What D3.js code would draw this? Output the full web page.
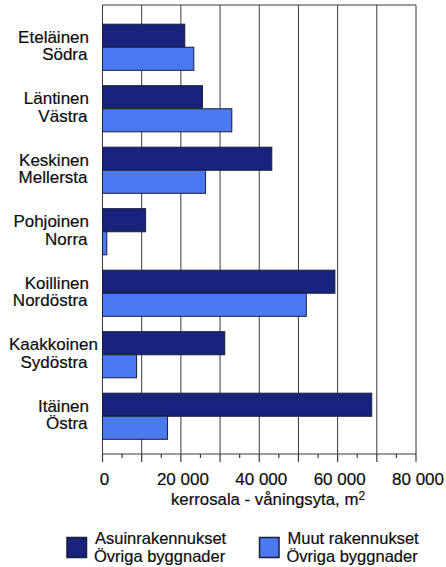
<!DOCTYPE html>
<html>
<head>
<meta charset="utf-8">
<script src="https://cdn.jsdelivr.net/npm/d3@7"></script>
<style>
  body { margin: 0; background: #fff; }
  svg text { font-family: "Liberation Sans", Arial, sans-serif; fill: #0d0d0d; stroke: #0d0d0d; stroke-width: 0.2px; }
</style>
</head>
<body>
<div id="chart"></div>
<script>
// regions (Finnish / Swedish)
const regionsFi = ['Eteläinen', 'Läntinen', 'Keskinen', 'Pohjoinen', 'Koillinen', 'Kaakkoinen', 'Itäinen'];
const regionsSv = ['Södra', 'Västra', 'Mellersta', 'Norra', 'Nordöstra', 'Sydöstra', 'Östra'];

// floor area, m2
const residential = [21000, 25500, 43200, 11000, 59300, 31200, 68700];
const otherBuildings = [23300, 33000, 26300, 1100, 52000, 8700, 16600];

const xTicks = [0, 20000, 40000, 60000, 80000];
const legendLabels = [
    ['Asuinrakennukset', 'Övriga byggnader'],
    ['Muut rakennukset', 'Övriga byggnader']
];

const width = 446, height = 567;
const colors = { dark: '#17237c', light: '#4b79ef', stroke: '#1b1d3c', grid: '#3a3a3a' };

const plot = { left: 102.5, right: 416, top: 5, bottom: 454 };
const labelMinX = 9; // labels never start left of this

const svg = d3.select('#chart').append('svg')
    .attr('width', width)
    .attr('height', height);

const x = d3.scaleLinear()
    .domain([0, 80000])
    .range([plot.left, plot.right]);

const y = d3.scaleBand()
    .domain(regionsFi)
    .range([16.5, 447])
    .paddingInner(0.25)
    .paddingOuter(0.125);

const sub = d3.scaleBand()
    .domain(['res', 'other'])
    .range([0, y.bandwidth()]);

// vertical grid lines every 10 000
svg.append('g')
    .selectAll('line')
    .data(d3.range(0, 80001, 10000))
    .enter()
    .append('line')
    .attr('x1', d => x(d)).attr('x2', d => x(d))
    .attr('y1', plot.top).attr('y2', plot.bottom)
    .attr('stroke', colors.grid)
    .attr('stroke-width', 1);

// top frame line
svg.append('line')
    .attr('x1', plot.left).attr('x2', plot.right)
    .attr('y1', plot.top).attr('y2', plot.top)
    .attr('stroke', colors.grid);

// bars
const groups = svg.append('g')
    .selectAll('g')
    .data(regionsFi)
    .enter()
    .append('g')
    .attr('transform', d => `translate(0,${y(d)})`);

groups.append('rect')
    .attr('x', x(0))
    .attr('y', sub('res'))
    .attr('width', (d, i) => x(residential[i]) - x(0))
    .attr('height', sub.bandwidth())
    .attr('fill', colors.dark)
    .attr('stroke', colors.stroke)
    .attr('stroke-width', 1);

groups.append('rect')
    .attr('x', x(0))
    .attr('y', sub('other'))
    .attr('width', (d, i) => x(otherBuildings[i]) - x(0))
    .attr('height', sub.bandwidth())
    .attr('fill', colors.light)
    .attr('stroke', colors.stroke)
    .attr('stroke-width', 1);

// category labels: right aligned, but pushed right if too long (Kaakkoinen)
const mid = y.bandwidth() / 2;
function rightLabel(sel, rightX) {
    sel.each(function() {
        const t = d3.select(this);
        const w = this.getComputedTextLength();
        t.attr('x', Math.max(rightX - w, labelMinX));
    });
}

groups.append('text')
    .attr('y', mid - 4.6)
    .style('font-size', '17px')
    .text(d => d)
    .call(rightLabel, 89);

groups.append('text')
    .attr('y', mid + 12.9)
    .style('font-size', '17px')
    .text((d, i) => regionsSv[i])
    .call(rightLabel, 87.5);

// x axis: major ticks every 10 000, minor every 5 000, labels every 20 000
const axis = svg.append('g')
    .attr('transform', `translate(0,${plot.bottom})`);

axis.append('line')
    .attr('x1', plot.left).attr('x2', plot.right)
    .attr('stroke', colors.grid)
    .attr('stroke-width', 1.2);

axis.selectAll('.tick-minor')
    .data(d3.range(0, 80001, 5000))
    .enter()
    .append('line')
    .attr('class', 'tick-minor')
    .attr('x1', d => x(d)).attr('x2', d => x(d))
    .attr('y1', 0)
    .attr('y2', d => d % 10000 === 0 ? 8 : 4)
    .attr('stroke', colors.grid)
    .attr('stroke-width', 1.2);

const fmt = d => d3.format(',')(d).replace(',', ' ');
axis.selectAll('.tick-label')
    .data(xTicks)
    .enter()
    .append('text')
    .attr('class', 'tick-label')
    .attr('x', d => x(d) + 2)
    .attr('y', 30.5)
    .attr('text-anchor', 'middle')
    .style('font-size', '17px')
    .text(fmt);

// axis title
const title = svg.append('text')
    .attr('x', 268)
    .attr('y', 505)
    .attr('text-anchor', 'middle')
    .style('font-size', '16.8px')
    .text('kerrosala - våningsyta, m');
title.append('tspan')
    .attr('dy', -5)
    .style('font-size', '12px')
    .text('2');

// legend
const legendItems = [
    { x: 67, color: colors.dark, lines: legendLabels[0] },
    { x: 259.5, color: colors.light, lines: legendLabels[1] }
];
const item = svg.append('g').selectAll('g')
    .data(legendItems)
    .enter()
    .append('g')
    .attr('transform', d => `translate(${d.x},0)`);

item.append('rect')
    .attr('x', 0).attr('y', 537.5)
    .attr('width', 19.5).attr('height', 20)
    .attr('fill', d => d.color)
    .attr('stroke', colors.stroke)
    .attr('stroke-width', 1.5);

item.append('text')
    .attr('x', 28).attr('y', 543.5)
    .style('font-size', '16.5px')
    .text(d => d.lines[0]);

item.append('text')
    .attr('x', 27).attr('y', 562)
    .style('font-size', '16.5px')
    .text(d => d.lines[1]);
</script>
</body>
</html>
